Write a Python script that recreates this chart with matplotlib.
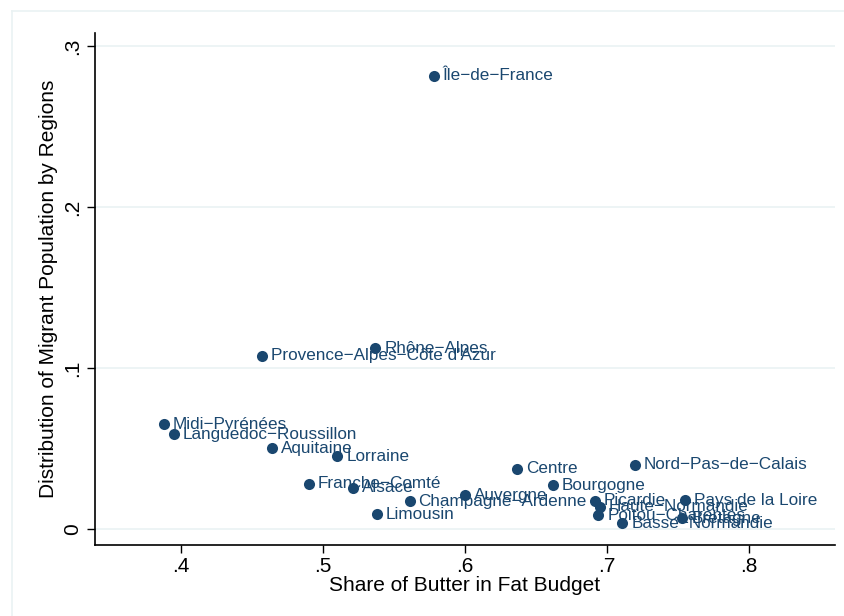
import matplotlib
matplotlib.use('Agg')
from matplotlib import pyplot as plt
from matplotlib.lines import Line2D

plt.rcParams['font.family'] = ['Liberation Sans', 'DejaVu Sans']

# regions, butter share, migrant share
regions = ['Île−de−France', 'Rhône−Alpes', 'Provence−Alpes−Côte d\'Azur',
           'Midi−Pyrénées', 'Languedoc−Roussillon', 'Aquitaine', 'Lorraine',
           'Franche−Comté', 'Alsace', 'Limousin', 'Champagne−Ardenne',
           'Auvergne', 'Centre', 'Bourgogne', 'Picardie', 'Haute−Normandie',
           'Poitou−Charentes', 'Nord−Pas−de−Calais', 'Pays de la Loire',
           'Bretagne', 'Basse−Normandie']
butter = [0.578, 0.537, 0.457, 0.388, 0.395, 0.464, 0.510,
          0.490, 0.521, 0.538, 0.561, 0.600, 0.637, 0.662,
          0.6915, 0.695, 0.694, 0.7197, 0.755, 0.753, 0.711]
migrant = [0.2814, 0.1124, 0.1075, 0.0652, 0.0590, 0.0503, 0.0453,
           0.0280, 0.0255, 0.0093, 0.0174, 0.0211, 0.0373, 0.0273,
           0.0176, 0.0139, 0.0087, 0.0398, 0.0180, 0.0068, 0.0037]

xticks = [0.4, 0.5, 0.6, 0.7, 0.8]
xticklabels = ['.4', '.5', '.6', '.7', '.8']
yticks = [0, 0.1, 0.2, 0.3]
yticklabels = ['0', '.1', '.2', '.3']

navy = '#1a476f'
grid = '#eaf2f3'

fig = plt.figure(figsize=(8.45, 6.16), dpi=100)
ax = fig.add_axes([0.1124, 0.1153, 0.8756, 0.8311])

# light outer frame (left and top edges visible)
fig.add_artist(Line2D([12/845, 12/845], [0, 1 - 11/616], color=grid, lw=1.2))
fig.add_artist(Line2D([12/845, 1], [1 - 11/616, 1 - 11/616], color=grid, lw=1.2))

for yv in yticks:
    ax.axhline(yv, color=grid, lw=1.2, zorder=0)

ax.scatter(butter, migrant, s=64, color=navy, zorder=3, linewidths=0)
for name, x, y in zip(regions, butter, migrant):
    ax.annotate(name, (x, y), xytext=(6.5, 0), textcoords='offset points',
                ha='left', va='center', fontsize=12.3, color=navy, zorder=4)

ax.set_xlim(0.3394, 0.8606)
ax.set_ylim(-0.0099, 0.308)
ax.set_xticks(xticks)
ax.set_xticklabels(xticklabels)
ax.set_yticks(yticks)
ax.set_yticklabels(yticklabels, rotation=90, va='center')
ax.tick_params(axis='both', direction='out', length=6, width=1, labelsize=15, pad=3)

for side in ['top', 'right']:
    ax.spines[side].set_visible(False)
for side in ['left', 'bottom']:
    ax.spines[side].set_linewidth(1.2)

ax.set_xlabel('Share of Butter in Fat Budget', fontsize=15, labelpad=0)
ax.set_ylabel('Distribution of Migrant Population by Regions', fontsize=15, labelpad=4)

fig.savefig('out.png', dpi=100)
